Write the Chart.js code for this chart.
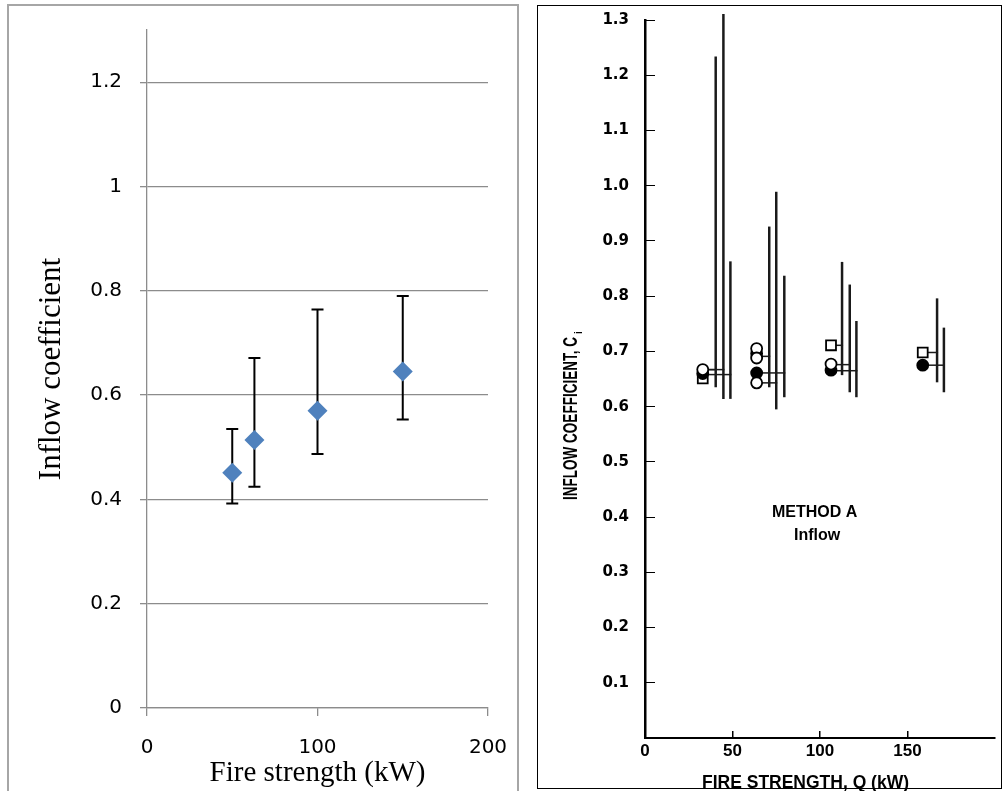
<!DOCTYPE html>
<html>
<head>
<meta charset="utf-8">
<script src="https://cdn.jsdelivr.net/npm/chart.js@4.4.1/dist/chart.umd.min.js"></script>
<style>
  html, body { margin: 0; padding: 0; background: #fff; }
  body { width: 1004px; height: 791px; position: relative; overflow: hidden; }
  #leftFrame { position: absolute; left: 7px; top: 4px; width: 508px; height: 800px; border: 2px solid #a6a6a6; }
  #rightFrame { position: absolute; left: 537px; top: 5px; width: 463px; height: 782px; border: 1px solid #000; }
  #leftChart { position: absolute; left: 0; top: 0; }
  #rightChart { position: absolute; left: 539px; top: 0; }
</style>
</head>
<body>
<div id="leftFrame"></div>
<div id="rightFrame"></div>
<canvas id="leftChart" width="530" height="791"></canvas>
<canvas id="rightChart" width="465" height="791"></canvas>
<script>
// left panel: mean inflow coefficient with error bars
var leftQ = [50, 63, 100, 150];
var leftC = [0.451, 0.514, 0.570, 0.645];
var leftLow = [0.392, 0.424, 0.487, 0.553];
var leftHigh = [0.535, 0.671, 0.764, 0.790];
var leftYTicks = [0, 0.2, 0.4, 0.6, 0.8, 1, 1.2];
var leftXTicks = [0, 100, 200];

// right panel: scanned "Method A" plot
var openCircleQ = [33, 63.8, 63.8, 63.8, 106.3];
var openCircleC = [0.667, 0.705, 0.688, 0.643, 0.677];
var filledCircleQ = [33, 63.8, 63.8, 106.3, 158.7];
var filledCircleC = [0.660, 0.696, 0.661, 0.666, 0.675];
var squareQ = [33, 106.3, 158.7];
var squareC = [0.651, 0.711, 0.698];

// range bars, each tied back to its marker by a short horizontal line
var barFromQ = [33, 33, 33, 63.8, 63.8, 63.8, 106.3, 106.3, 106.3, 158.7, 158.7];
var barQ = [40.4, 44.8, 48.8, 71.0, 75.0, 79.6, 112.6, 117.0, 120.8, 166.9, 170.8];
var barMidC = [0.667, 0.667, 0.658, 0.691, 0.643, 0.661, 0.711, 0.676, 0.665, 0.698, 0.675];
var barLowC = [0.635, 0.614, 0.614, 0.635, 0.595, 0.617, 0.657, 0.626, 0.617, 0.644, 0.626];
var barHighC = [1.234, 1.311, 0.863, 0.926, 0.989, 0.837, 0.862, 0.821, 0.755, 0.796, 0.743];
var rightYTicks = [0, 0.1, 0.2, 0.3, 0.4, 0.5, 0.6, 0.7, 0.8, 0.9, 1.0, 1.1, 1.2, 1.3];
var rightXTicks = [0, 50, 100, 150];

function toPoints(xs, ys) {
    return xs.map(function(x, i) { return { x: x, y: ys[i] }; });
}

function fixTicks(list) {
    return function(scale) {
        scale.ticks = list.map(function(v) { return { value: v }; });
    };
}

var errorBarPlugin = {
    id: 'errorBars',
    beforeDatasetsDraw: function(chart) {
        var ctx = chart.ctx, xs = chart.scales.x, ys = chart.scales.y;
        ctx.save();
        ctx.strokeStyle = '#000';
        ctx.lineWidth = 2;
        for (var i = 0; i < leftQ.length; i++) {
            var px = xs.getPixelForValue(leftQ[i]);
            var top = ys.getPixelForValue(leftHigh[i]);
            var bot = ys.getPixelForValue(leftLow[i]);
            ctx.beginPath();
            ctx.moveTo(px, top); ctx.lineTo(px, bot);
            ctx.moveTo(px - 6, top); ctx.lineTo(px + 6, top);
            ctx.moveTo(px - 6, bot); ctx.lineTo(px + 6, bot);
            ctx.stroke();
        }
        ctx.restore();
    }
};

new Chart(document.getElementById('leftChart'), {
    type: 'scatter',
    data: {
        datasets: [{
            data: toPoints(leftQ, leftC),
            pointStyle: 'rectRot',
            pointRadius: 10,
            pointBackgroundColor: '#4f81bd',
            pointBorderColor: '#4f81bd',
            pointBorderWidth: 0
        }]
    },
    options: {
        responsive: false,
        animation: false,
        layout: { padding: { left: 0, top: 30, right: 42, bottom: 0 } },
        plugins: { legend: { display: false }, tooltip: { enabled: false } },
        scales: {
            x: {
                type: 'linear', min: 0, max: 200,
                afterBuildTicks: fixTicks(leftXTicks),
                afterFit: function(s) { s.height = 83; },
                grid: { drawOnChartArea: false, tickLength: 8, color: '#8c8c8c', lineWidth: 1.3 },
                border: { color: '#8c8c8c', width: 1.3 },
                ticks: { color: '#000', padding: 20, font: { family: 'DejaVu Sans', size: 20 } },
                title: {
                    display: true, text: 'Fire strength (kW)', color: '#000',
                    font: { family: 'Liberation Serif', size: 29 }, padding: { top: 0, bottom: 0 }
                }
            },
            y: {
                type: 'linear', min: 0, max: 1.3,
                afterBuildTicks: fixTicks(leftYTicks),
                afterFit: function(s) { s.width = 147; s.paddingTop = 0; s.paddingBottom = 0; },
                grid: { tickLength: 7, color: '#8c8c8c', lineWidth: 1.3 },
                border: { color: '#8c8c8c', width: 1.3 },
                ticks: {
                    color: '#000', padding: 18, font: { family: 'DejaVu Sans', size: 20 },
                    callback: function(v) { return String(v); }
                },
                title: {
                    display: true, text: 'Inflow coefficient', color: '#000',
                    font: { family: 'Liberation Serif', size: 31 }, padding: { top: 33, bottom: 0 }
                }
            }
        }
    },
    plugins: [errorBarPlugin]
});

var rangeBarPlugin = {
    id: 'rangeBars',
    beforeDatasetsDraw: function(chart) {
        var ctx = chart.ctx, xs = chart.scales.x, ys = chart.scales.y;
        ctx.save();
        ctx.strokeStyle = '#1a1a1a';
        for (var i = 0; i < barQ.length; i++) {
            var px = xs.getPixelForValue(barQ[i]);
            ctx.lineWidth = 2.5;
            ctx.beginPath();
            ctx.moveTo(px, ys.getPixelForValue(barHighC[i]));
            ctx.lineTo(px, ys.getPixelForValue(barLowC[i]));
            ctx.stroke();
            ctx.lineWidth = 1.5;
            var py = ys.getPixelForValue(barMidC[i]);
            ctx.beginPath();
            ctx.moveTo(xs.getPixelForValue(barFromQ[i]), py);
            ctx.lineTo(px + 1, py);
            ctx.stroke();
        }
        ctx.restore();
    },
    afterDraw: function(chart) {
        var ctx = chart.ctx;
        ctx.save();
        ctx.fillStyle = '#000';
        ctx.textAlign = 'left';
        ctx.textBaseline = 'alphabetic';
        // axis titles, condensed with maxWidth like the typewriter lettering
        ctx.font = 'bold 18px "Liberation Sans"';
        ctx.fillText('FIRE STRENGTH, Q (kW)', 163, 788, 207);
        ctx.translate(31, 500);
        ctx.rotate(-Math.PI / 2);
        ctx.font = 'bold 20px "Liberation Sans"';
        ctx.fillText('INFLOW COEFFICIENT, C', 0, 7, 163);
        ctx.font = 'bold 10px "Liberation Sans"';
        ctx.fillText('i', 166, 12);
        ctx.setTransform(1, 0, 0, 1, 0, 0);
        ctx.font = 'bold 16px "Liberation Sans"';
        ctx.fillText('METHOD A', 233, 517);
        ctx.fillText('Inflow', 255, 540);
        ctx.restore();
    }
};

new Chart(document.getElementById('rightChart'), {
    type: 'scatter',
    data: {
        datasets: [{
            data: toPoints(openCircleQ, openCircleC),
            pointStyle: 'circle', pointRadius: 5.5,
            pointBackgroundColor: '#fff', pointBorderColor: '#000', pointBorderWidth: 1.8
        }, {
            data: toPoints(filledCircleQ, filledCircleC),
            pointStyle: 'circle', pointRadius: 5.5,
            pointBackgroundColor: '#000', pointBorderColor: '#000', pointBorderWidth: 1.8
        }, {
            data: toPoints(squareQ, squareC),
            pointStyle: 'rect', pointRadius: 7,
            pointBackgroundColor: '#fff', pointBorderColor: '#000', pointBorderWidth: 1.8
        }]
    },
    options: {
        responsive: false,
        animation: false,
        layout: { padding: { left: 0, top: 20, right: 9, bottom: 0 } },
        plugins: { legend: { display: false }, tooltip: { enabled: false } },
        scales: {
            x: {
                type: 'linear', min: 0, max: 200,
                afterBuildTicks: fixTicks(rightXTicks),
                afterFit: function(s) { s.height = 53; },
                grid: { drawOnChartArea: false, tickLength: -7, color: '#000', lineWidth: 1.5 },
                border: { color: '#000', width: 2 },
                ticks: { color: '#000', padding: 10, font: { family: 'Liberation Sans', size: 17, weight: 'bold' } }
            },
            y: {
                type: 'linear', min: 0, max: 1.3,
                afterBuildTicks: fixTicks(rightYTicks),
                afterFit: function(s) { s.width = 106; s.paddingTop = 0; s.paddingBottom = 0; },
                grid: { drawOnChartArea: false, tickLength: -10, color: '#000', lineWidth: 1 },
                border: { color: '#000', width: 2.5 },
                ticks: {
                    color: '#000', padding: 26, font: { family: 'DejaVu Sans', size: 15, weight: 'bold' },
                    callback: function(v) { return v === 0 ? '' : v.toFixed(1); }
                }
            }
        }
    },
    plugins: [rangeBarPlugin]
});
</script>
</body>
</html>
